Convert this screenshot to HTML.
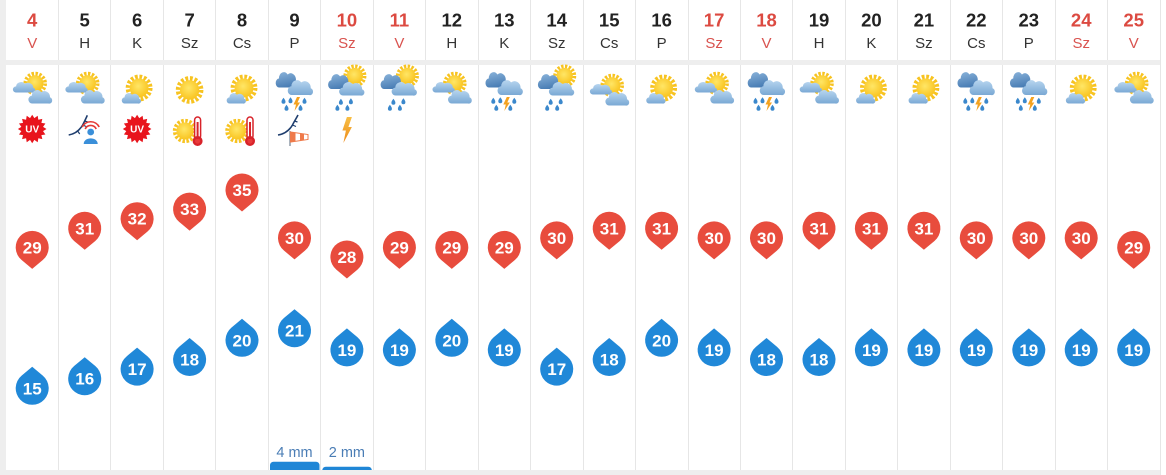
<!DOCTYPE html>
<html><head><meta charset="utf-8">
<style>
html,body{margin:0;padding:0;background:#ffffff;}
svg{display:block;}
.n{font-family:"Liberation Sans",sans-serif;font-weight:bold;font-size:18.5px;fill:#222;text-anchor:middle;}
.l{font-family:"Liberation Sans",sans-serif;font-size:15px;fill:#333;text-anchor:middle;}
.r{fill:#dc4a41;}
.lr{fill:#d9534f;}
.pt{font-family:"Liberation Sans",sans-serif;font-weight:bold;font-size:17px;fill:#fff;text-anchor:middle;}
.mm{font-family:"Liberation Sans",sans-serif;font-size:14.5px;fill:#4a7db5;text-anchor:middle;}
.uv{font-family:"Liberation Sans",sans-serif;font-weight:bold;font-size:10px;fill:#fff;text-anchor:middle;}
</style></head>
<body>
<svg width="1166" height="475" viewBox="0 0 1166 475" xmlns="http://www.w3.org/2000/svg" xmlns:xlink="http://www.w3.org/1999/xlink">
<defs>
<linearGradient id="gl" x1="0" y1="0" x2="0" y2="1"><stop offset="0" stop-color="#b7d5ef"/><stop offset="1" stop-color="#79a8d4"/></linearGradient>
<linearGradient id="gd" x1="0" y1="0" x2="0.3" y2="1"><stop offset="0" stop-color="#8ab3da"/><stop offset="1" stop-color="#4a7eb5"/></linearGradient>
<radialGradient id="sg" cx="0.45" cy="0.4" r="0.6"><stop offset="0" stop-color="#ffe666"/><stop offset="1" stop-color="#f9c420"/></radialGradient>
<linearGradient id="bg" x1="0" y1="0" x2="0" y2="1"><stop offset="0" stop-color="#f8bf45"/><stop offset="1" stop-color="#ec8a1a"/></linearGradient>
<path id="cl" d="M5 15.5A4.5 4.5 0 0 1 4.5 6.5A6.5 6.5 0 0 1 16 2.5A7 7 0 0 1 27 8.5A3.6 3.6 0 0 1 25 15.5Z"/>
<g id="sun"><circle r="10.8" fill="none" stroke="#f7c320" stroke-width="4" stroke-dasharray="2.6 1.64"/><circle r="9" fill="url(#sg)"/></g>
<path id="dr" d="M0 -3.2C1.2 -1.6 2 -0.6 2 0.8A2 2 0 0 1 -2 0.8C-2 -0.6 -1.2 -1.6 0 -3.2Z" fill="#3b88cc"/>
<polygon id="bs" points="0.5,-7 3.5,-7 1,-1.5 3.5,-1.5 -2,7 -0.5,0.5 -3,0.5" fill="#f4a21f"/>
<path id="pin" d="M-10.58 12.66A16.5 16.5 0 1 1 10.58 12.66L0 21.5Z" fill="#e84c3d"/>
<path id="drop" d="M-10.58 -12.66A16.5 16.5 0 1 0 10.58 -12.66L0 -21.5Z" fill="#2088d8"/>
<g id="iA">
 <use xlink:href="#sun" transform="translate(3,-6.5) scale(0.92)"/>
 <use xlink:href="#cl" transform="translate(-19.5,-8) scale(0.759,0.677)" fill="url(#gl)"/>
 <use xlink:href="#cl" transform="translate(-4,0) scale(0.81,0.871)" fill="url(#gl)"/>
</g>
<g id="iB">
 <use xlink:href="#sun" transform="translate(2,-2) scale(1.05)"/>
 <use xlink:href="#cl" transform="translate(-15.5,3) scale(0.655,0.677)" fill="url(#gl)"/>
</g>
<g id="iS"><use xlink:href="#sun" transform="scale(1.08)"/></g>
<g id="iD">
 <use xlink:href="#cl" transform="translate(-19,-18) scale(0.759,1.0)" fill="url(#gd)"/>
 <use xlink:href="#cl" transform="translate(-7,-10) scale(0.862,0.968)" fill="url(#gl)"/>
 <use xlink:href="#dr" x="-11" y="11"/><use xlink:href="#dr" x="-4" y="10.5"/><use xlink:href="#dr" x="10" y="11"/>
 <use xlink:href="#dr" x="-8" y="18"/><use xlink:href="#dr" x="6" y="18"/>
 <use xlink:href="#bs" x="2" y="14"/>
</g>
<g id="iE">
 <use xlink:href="#sun" transform="translate(8,-14) scale(0.9)"/>
 <use xlink:href="#cl" transform="translate(-19,-16) scale(0.759,0.97)" fill="url(#gd)"/>
 <use xlink:href="#cl" transform="translate(-8,-8) scale(0.862,0.87)" fill="url(#gl)"/>
 <use xlink:href="#dr" x="-6" y="12"/><use xlink:href="#dr" x="4" y="11.5"/>
 <use xlink:href="#dr" x="-9.5" y="18"/><use xlink:href="#dr" x="0.5" y="18"/>
</g>
<g id="uv">
 <polygon transform="scale(1.3)" fill="#e8141c" points="11,0 8.34,1.66 10.16,4.21 7.07,4.72 7.78,7.78 4.72,7.07 4.21,10.16 1.66,8.34 0,11 -1.66,8.34 -4.21,10.16 -4.72,7.07 -7.78,7.78 -7.07,4.72 -10.16,4.21 -8.34,1.66 -11,0 -8.34,-1.66 -10.16,-4.21 -7.07,-4.72 -7.78,-7.78 -4.72,-7.07 -4.21,-10.16 -1.66,-8.34 0,-11 1.66,-8.34 4.21,-10.16 4.72,-7.07 7.78,-7.78 7.07,-4.72 10.16,-4.21 8.34,-1.66"/>
</g>
<g id="th">
 <use xlink:href="#sun" transform="translate(-4.6,3) scale(0.95)"/>
 <rect x="5" y="-11" width="6" height="22" rx="3" fill="#fff" stroke="#d8232a" stroke-width="1.5"/>
 <circle cx="8" cy="13" r="5" fill="#d8232a"/>
 <circle cx="8" cy="13" r="2.6" fill="#e83a3a"/>
 <rect x="7" y="-6" width="2" height="17" fill="#d8232a"/>
</g>
</defs>

<!-- panels -->
<rect x="0" y="0" width="1166" height="475" fill="#ffffff"/>
<rect x="0" y="0" width="6" height="475" fill="#eeeeee"/>
<rect x="0" y="60" width="1160" height="5" fill="#eeeeee"/>
<line x1="1160.5" y1="0" x2="1160.5" y2="475" stroke="#e6e6e6" stroke-width="1"/>

<!-- separators -->
<g stroke="#e6e6e6" stroke-width="1">
<path d="M58.5 0V60M110.5 0V60M163.5 0V60M215.5 0V60M268.5 0V60M320.5 0V60M373.5 0V60M425.5 0V60M478.5 0V60M530.5 0V60M583.5 0V60M635.5 0V60M688.5 0V60M740.5 0V60M792.5 0V60M845.5 0V60M897.5 0V60M950.5 0V60M1002.5 0V60M1055.5 0V60M1107.5 0V60"/>
<path d="M58.5 65V470M110.5 65V470M163.5 65V470M215.5 65V470M268.5 65V470M320.5 65V470M373.5 65V470M425.5 65V470M478.5 65V470M530.5 65V470M583.5 65V470M635.5 65V470M688.5 65V470M740.5 65V470M792.5 65V470M845.5 65V470M897.5 65V470M950.5 65V470M1002.5 65V470M1055.5 65V470M1107.5 65V470"/>
</g>

<!-- header -->
<text class="n r" x="32.2" y="26.5">4</text><text class="l lr" x="32.2" y="48">V</text>
<text class="n" x="84.7" y="26.5">5</text><text class="l" x="84.7" y="48">H</text>
<text class="n" x="137.1" y="26.5">6</text><text class="l" x="137.1" y="48">K</text>
<text class="n" x="189.6" y="26.5">7</text><text class="l" x="189.6" y="48">Sz</text>
<text class="n" x="242" y="26.5">8</text><text class="l" x="242" y="48">Cs</text>
<text class="n" x="294.5" y="26.5">9</text><text class="l" x="294.5" y="48">P</text>
<text class="n r" x="346.9" y="26.5">10</text><text class="l lr" x="346.9" y="48">Sz</text>
<text class="n r" x="399.4" y="26.5">11</text><text class="l lr" x="399.4" y="48">V</text>
<text class="n" x="451.8" y="26.5">12</text><text class="l" x="451.8" y="48">H</text>
<text class="n" x="504.3" y="26.5">13</text><text class="l" x="504.3" y="48">K</text>
<text class="n" x="556.7" y="26.5">14</text><text class="l" x="556.7" y="48">Sz</text>
<text class="n" x="609.2" y="26.5">15</text><text class="l" x="609.2" y="48">Cs</text>
<text class="n" x="661.6" y="26.5">16</text><text class="l" x="661.6" y="48">P</text>
<text class="n r" x="714.1" y="26.5">17</text><text class="l lr" x="714.1" y="48">Sz</text>
<text class="n r" x="766.5" y="26.5">18</text><text class="l lr" x="766.5" y="48">V</text>
<text class="n" x="819" y="26.5">19</text><text class="l" x="819" y="48">H</text>
<text class="n" x="871.4" y="26.5">20</text><text class="l" x="871.4" y="48">K</text>
<text class="n" x="923.9" y="26.5">21</text><text class="l" x="923.9" y="48">Sz</text>
<text class="n" x="976.3" y="26.5">22</text><text class="l" x="976.3" y="48">Cs</text>
<text class="n" x="1028.8" y="26.5">23</text><text class="l" x="1028.8" y="48">P</text>
<text class="n r" x="1081.2" y="26.5">24</text><text class="l lr" x="1081.2" y="48">Sz</text>
<text class="n r" x="1133.7" y="26.5">25</text><text class="l lr" x="1133.7" y="48">V</text>

<!-- weather icons -->
<use xlink:href="#iA" x="32.2" y="90"/>
<use xlink:href="#iA" x="84.7" y="90"/>
<use xlink:href="#iB" x="137.1" y="90"/>
<use xlink:href="#iS" x="189.6" y="90"/>
<use xlink:href="#iB" x="242" y="90"/>
<use xlink:href="#iD" x="294.5" y="90"/>
<use xlink:href="#iE" x="346.9" y="90"/>
<use xlink:href="#iE" x="399.4" y="90"/>
<use xlink:href="#iA" x="451.8" y="90"/>
<use xlink:href="#iD" x="504.3" y="90"/>
<use xlink:href="#iE" x="556.7" y="90"/>
<use xlink:href="#iA" x="609.2" y="92"/>
<use xlink:href="#iB" x="661.6" y="90"/>
<use xlink:href="#iA" x="714.1" y="90"/>
<use xlink:href="#iD" x="766.5" y="90"/>
<use xlink:href="#iA" x="819" y="90"/>
<use xlink:href="#iB" x="871.4" y="90"/>
<use xlink:href="#iB" x="923.9" y="90"/>
<use xlink:href="#iD" x="976.3" y="90"/>
<use xlink:href="#iD" x="1028.8" y="90"/>
<use xlink:href="#iB" x="1081.2" y="90"/>
<use xlink:href="#iA" x="1133.7" y="90"/>

<!-- second row icons -->
<use xlink:href="#uv" x="32.2" y="129"/><text class="uv" x="32.2" y="132.5">UV</text>
<use xlink:href="#uv" x="137.1" y="129"/><text class="uv" x="137.1" y="132.5">UV</text>
<g transform="translate(84.7,128)">
 <path d="M-16,7 C-10,6 -5,2 -2,-3 C0,-7 1.5,-10 2.6,-12.7" fill="none" stroke="#1f3e6e" stroke-width="1.6"/>
 <path d="M-2,-3 l3.5,1.5 M0,-7 l3,1 M-7,3 l2,3" fill="none" stroke="#1f3e6e" stroke-width="1.2"/>
 <path d="M0.5,1 A6 6 0 0 1 11.5,1" fill="none" stroke="#e53935" stroke-width="1.6"/>
 <path d="M-2.5,-1 A9.5 9.5 0 0 1 14.5,-1" fill="none" stroke="#e53935" stroke-width="1.6"/>
 <circle cx="6" cy="4" r="3.4" fill="#3a8fd9"/>
 <path d="M-1,16 C-1,8.5 13,8.5 13,16 Z" fill="#3a8fd9"/>
</g>
<use xlink:href="#th" x="189.6" y="128"/>
<use xlink:href="#th" x="242" y="128"/>
<g transform="translate(294.5,128)">
 <path d="M-16.5,7 C-10,6 -5,2 -2,-3 C0,-7 2,-10 3.5,-13" fill="none" stroke="#1f3e6e" stroke-width="1.6"/>
 <path d="M-2,-3 l3.5,1.5 M0,-7 l3,1" fill="none" stroke="#1f3e6e" stroke-width="1.2"/>
 <line x1="-4.5" y1="3" x2="-4.5" y2="18" stroke="#7c8a99" stroke-width="1.3"/>
 <polygon points="-4,4 13.5,6.5 13.5,11.5 -4,14" fill="#fff" stroke="#ef7a4a" stroke-width="1"/>
 <polygon points="-4,4 1,4.7 1,13.3 -4,14" fill="#ef7a4a"/>
 <polygon points="5.5,5.3 9.5,5.9 9.5,12 5.5,12.6" fill="#ef7a4a"/>
</g>
<path transform="translate(346.9,130)" d="M0,-13 L5,-13 L1.5,-3 L5,-3 L-3.5,13 L-1,0.5 L-4.5,0.5 Z" fill="url(#bg)"/>

<!-- max temperature pins -->
<use xlink:href="#pin" x="32.2" y="247.4"/><text class="pt" x="32.2" y="253.4">29</text>
<use xlink:href="#pin" x="84.7" y="228.3"/><text class="pt" x="84.7" y="234.3">31</text>
<use xlink:href="#pin" x="137.1" y="218.7"/><text class="pt" x="137.1" y="224.7">32</text>
<use xlink:href="#pin" x="189.6" y="209.1"/><text class="pt" x="189.6" y="215.1">33</text>
<use xlink:href="#pin" x="242" y="190"/><text class="pt" x="242" y="196">35</text>
<use xlink:href="#pin" x="294.5" y="237.9"/><text class="pt" x="294.5" y="243.9">30</text>
<use xlink:href="#pin" x="346.9" y="257"/><text class="pt" x="346.9" y="263">28</text>
<use xlink:href="#pin" x="399.4" y="247.4"/><text class="pt" x="399.4" y="253.4">29</text>
<use xlink:href="#pin" x="451.8" y="247.4"/><text class="pt" x="451.8" y="253.4">29</text>
<use xlink:href="#pin" x="504.3" y="247.4"/><text class="pt" x="504.3" y="253.4">29</text>
<use xlink:href="#pin" x="556.7" y="237.9"/><text class="pt" x="556.7" y="243.9">30</text>
<use xlink:href="#pin" x="609.2" y="228.3"/><text class="pt" x="609.2" y="234.3">31</text>
<use xlink:href="#pin" x="661.6" y="228.3"/><text class="pt" x="661.6" y="234.3">31</text>
<use xlink:href="#pin" x="714.1" y="237.9"/><text class="pt" x="714.1" y="243.9">30</text>
<use xlink:href="#pin" x="766.5" y="237.9"/><text class="pt" x="766.5" y="243.9">30</text>
<use xlink:href="#pin" x="819" y="228.3"/><text class="pt" x="819" y="234.3">31</text>
<use xlink:href="#pin" x="871.4" y="228.3"/><text class="pt" x="871.4" y="234.3">31</text>
<use xlink:href="#pin" x="923.9" y="228.3"/><text class="pt" x="923.9" y="234.3">31</text>
<use xlink:href="#pin" x="976.3" y="237.9"/><text class="pt" x="976.3" y="243.9">30</text>
<use xlink:href="#pin" x="1028.8" y="237.9"/><text class="pt" x="1028.8" y="243.9">30</text>
<use xlink:href="#pin" x="1081.2" y="237.9"/><text class="pt" x="1081.2" y="243.9">30</text>
<use xlink:href="#pin" x="1133.7" y="247.4"/><text class="pt" x="1133.7" y="253.4">29</text>

<!-- min temperature drops -->
<use xlink:href="#drop" x="32.2" y="388.3"/><text class="pt" x="32.2" y="394.3">15</text>
<use xlink:href="#drop" x="84.7" y="378.7"/><text class="pt" x="84.7" y="384.7">16</text>
<use xlink:href="#drop" x="137.1" y="369.1"/><text class="pt" x="137.1" y="375.1">17</text>
<use xlink:href="#drop" x="189.6" y="359.5"/><text class="pt" x="189.6" y="365.5">18</text>
<use xlink:href="#drop" x="242" y="340.3"/><text class="pt" x="242" y="346.3">20</text>
<use xlink:href="#drop" x="294.5" y="330.7"/><text class="pt" x="294.5" y="336.7">21</text>
<use xlink:href="#drop" x="346.9" y="349.9"/><text class="pt" x="346.9" y="355.9">19</text>
<use xlink:href="#drop" x="399.4" y="349.9"/><text class="pt" x="399.4" y="355.9">19</text>
<use xlink:href="#drop" x="451.8" y="340.3"/><text class="pt" x="451.8" y="346.3">20</text>
<use xlink:href="#drop" x="504.3" y="349.9"/><text class="pt" x="504.3" y="355.9">19</text>
<use xlink:href="#drop" x="556.7" y="369.1"/><text class="pt" x="556.7" y="375.1">17</text>
<use xlink:href="#drop" x="609.2" y="359.5"/><text class="pt" x="609.2" y="365.5">18</text>
<use xlink:href="#drop" x="661.6" y="340.3"/><text class="pt" x="661.6" y="346.3">20</text>
<use xlink:href="#drop" x="714.1" y="349.9"/><text class="pt" x="714.1" y="355.9">19</text>
<use xlink:href="#drop" x="766.5" y="359.5"/><text class="pt" x="766.5" y="365.5">18</text>
<use xlink:href="#drop" x="819" y="359.5"/><text class="pt" x="819" y="365.5">18</text>
<use xlink:href="#drop" x="871.4" y="349.9"/><text class="pt" x="871.4" y="355.9">19</text>
<use xlink:href="#drop" x="923.9" y="349.9"/><text class="pt" x="923.9" y="355.9">19</text>
<use xlink:href="#drop" x="976.3" y="349.9"/><text class="pt" x="976.3" y="355.9">19</text>
<use xlink:href="#drop" x="1028.8" y="349.9"/><text class="pt" x="1028.8" y="355.9">19</text>
<use xlink:href="#drop" x="1081.2" y="349.9"/><text class="pt" x="1081.2" y="355.9">19</text>
<use xlink:href="#drop" x="1133.7" y="349.9"/><text class="pt" x="1133.7" y="355.9">19</text>

<!-- precipitation -->
<text class="mm" x="294.5" y="457">4 mm</text>
<text class="mm" x="346.9" y="457">2 mm</text>
<rect x="270" y="461.7" width="49.5" height="14" rx="3.5" fill="#1f86d6"/>
<rect x="322.3" y="466.7" width="49.5" height="10" rx="3.5" fill="#1f86d6"/>

<!-- bottom band -->
<rect x="0" y="470" width="1160" height="5" fill="#eeeeee"/>
</svg>
</body></html>
